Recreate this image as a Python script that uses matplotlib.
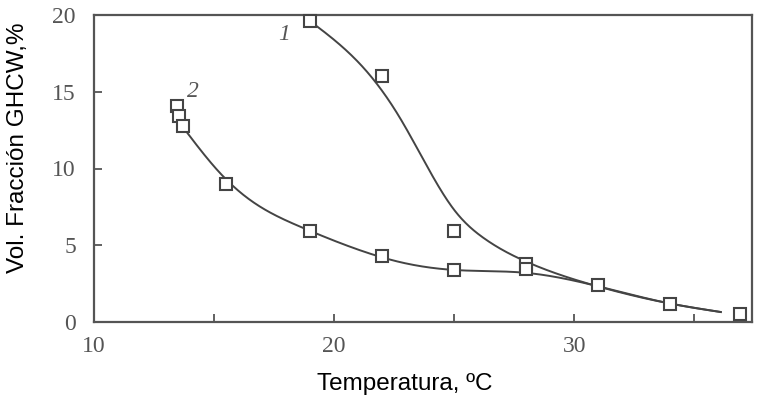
import numpy as np
import matplotlib
matplotlib.use("Agg")
import matplotlib.pyplot as plt

# Measured points
s1_x = [19.0, 22.0, 25.0, 28.0, 31.0, 34.0, 36.9]
s1_y = [19.6, 16.0, 5.95, 3.8, 2.4, 1.2, 0.5]
s2_x = [13.45, 13.55, 13.7, 15.5, 19.0, 22.0, 25.0, 28.0]
s2_y = [14.05, 13.4, 12.75, 9.0, 5.9, 4.3, 3.4, 3.45]

# Fitted curves
c1_x = [19.0, 21.2, 22.7, 24.1, 25.0, 26.2, 27.9, 30.8, 34.0, 36.1]
c1_y = [19.6, 16.6, 13.4, 9.5, 7.3, 5.5, 4.0, 2.4, 1.2, 0.65]
c2_x = [13.7, 15.25, 16.5, 18.6, 20.67, 22.75, 25.0, 28.0, 30.8, 34.0, 36.1]
c2_y = [12.7, 9.7, 7.95, 6.2, 4.9, 3.9, 3.39, 3.2, 2.4, 1.2, 0.65]

xticks_major = [10, 20, 30]
xticks_minor = [15, 25, 35]
yticks = [0, 5, 10, 15, 20]


def natural_spline(x, y, n=500):
    x = np.asarray(x, float); y = np.asarray(y, float)
    N = len(x); h = np.diff(x)
    A = np.zeros((N, N)); b = np.zeros(N)
    A[0, 0] = A[-1, -1] = 1
    for i in range(1, N - 1):
        A[i, i - 1] = h[i - 1]; A[i, i] = 2 * (h[i - 1] + h[i]); A[i, i + 1] = h[i]
        b[i] = 6 * ((y[i + 1] - y[i]) / h[i] - (y[i] - y[i - 1]) / h[i - 1])
    M = np.linalg.solve(A, b)
    xs = np.linspace(x[0], x[-1], n)
    idx = np.clip(np.searchsorted(x, xs) - 1, 0, N - 2)
    hi = h[idx]; a = x[idx + 1] - xs; c = xs - x[idx]
    ys = (M[idx] * a**3 + M[idx + 1] * c**3) / (6 * hi) \
        + (y[idx] / hi - M[idx] * hi / 6) * a + (y[idx + 1] / hi - M[idx + 1] * hi / 6) * c
    return xs, ys


fig = plt.figure(figsize=(7.68, 3.98), dpi=100)
ax = fig.add_axes([94 / 768, 1 - 322 / 398, (752 - 94) / 768, (322 - 15) / 398])

gray = "#555555"
lc = "#444444"
for cx, cy in ((c1_x, c1_y), (c2_x, c2_y)):
    xs, ys = natural_spline(cx, cy)
    ax.plot(xs, ys, color=lc, lw=1.4, zorder=2)

mk = dict(marker="s", ms=8.5, mfc="white", mec=lc, mew=1.5, ls="none", zorder=3, clip_on=False)
ax.plot(s1_x, s1_y, **mk)
ax.plot(s2_x, s2_y, **mk)

ax.text(17.9, 18.7, "1", fontsize=17, fontstyle="italic", family="Liberation Serif", color=gray, ha="center", va="center")
ax.text(14.1, 15.0, "2", fontsize=17, fontstyle="italic", family="Liberation Serif", color=gray, ha="center", va="center")

ax.set_xlim(10, 37.4)
ax.set_ylim(0, 20)
ax.set_xticks(xticks_major)
ax.set_xticks(xticks_minor, minor=True)
ax.set_yticks(yticks)
for lab in ax.get_xticklabels() + ax.get_yticklabels():
    lab.set_family("Liberation Serif")
    lab.set_fontsize(17)
    lab.set_color(gray)
ax.tick_params(axis="both", which="both", direction="in", length=6, width=1.3, color=gray)
ax.tick_params(axis="x", which="major", pad=10)
ax.tick_params(axis="y", which="major", pad=13)
for s in ax.spines.values():
    s.set_color(gray)
    s.set_linewidth(1.6)

ax.set_xlabel("Temperatura, ºC", family="Liberation Sans", fontsize=17.5, color="black", va="center")
ax.set_ylabel("Vol. Fracción GHCW,%", family="Liberation Sans", fontsize=17.5, color="black", va="center")
ax.xaxis.set_label_coords((405 - 94) / 658, -(384 - 322) / 307)
ax.yaxis.set_label_coords((18 - 94) / 658, (322 - 148) / 307)

fig.savefig("out.png", dpi=100)
